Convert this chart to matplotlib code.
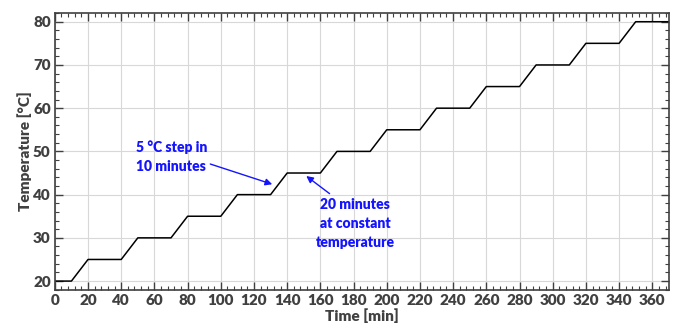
import matplotlib.pyplot as plt
from matplotlib.ticker import MultipleLocator

# temperature profile: 5 degC step in 10 min, then 20 min hold
time_min = [0, 10, 20, 40, 50, 70, 80, 100, 110, 130, 140, 160, 170, 190, 200,
            220, 230, 250, 260, 280, 290, 310, 320, 340, 350, 370]
temp_c = [20, 20, 25, 25, 30, 30, 35, 35, 40, 40, 45, 45, 50, 50, 55,
          55, 60, 60, 65, 65, 70, 70, 75, 75, 80, 80]

plt.rcParams['font.family'] = ['Lato', 'DejaVu Sans']
plt.rcParams['font.weight'] = 'bold'

fig = plt.figure(figsize=(6.77, 3.27), dpi=100)
ax = fig.add_axes([0.081, 0.114, 0.907, 0.846])

ax.plot(time_min, temp_c, color='black', linewidth=1.1)

ax.set_xlim(0, 370)
ax.set_ylim(18, 82)
ax.xaxis.set_major_locator(MultipleLocator(20))
ax.xaxis.set_minor_locator(MultipleLocator(4))
ax.yaxis.set_major_locator(MultipleLocator(10))
ax.yaxis.set_minor_locator(MultipleLocator(2))
ax.tick_params(which='both', direction='in', top=True, right=True,
               colors='#404040', labelsize=11)
ax.tick_params(which='major', length=6, width=1, pad=3)
ax.tick_params(which='minor', length=3, width=0.8)
for lbl in ax.get_xticklabels() + ax.get_yticklabels():
    lbl.set_fontweight('heavy')
for s in ax.spines.values():
    s.set_color('#404040')
    s.set_linewidth(1.2)
ax.grid(True, which='major', color='#d8d8d8', linewidth=0.8)
ax.set_axisbelow(True)

ax.set_xlabel('Time [min]', fontsize=11, fontweight='heavy', color='#404040', labelpad=1)
ax.set_ylabel('Temperature [°C]', fontsize=11, fontweight='heavy', color='#404040', labelpad=1)

blue = '#1414ff'
ax.annotate('5 °C step in\n10 minutes', xy=(131, 42.4), xytext=(49, 52.6),
            color=blue, fontsize=10, fontweight='heavy', ha='left', va='top',
            linespacing=1.55,
            arrowprops=dict(arrowstyle='-|>', color=blue, lw=1.0,
                            shrinkA=0, shrinkB=0, mutation_scale=10,
                            relpos=(1.0, 0.3)))
ax.annotate('20 minutes\nat constant\ntemperature', xy=(151.5, 44.3), xytext=(181, 39.2),
            color=blue, fontsize=10, fontweight='heavy', ha='center', va='top',
            linespacing=1.55,
            arrowprops=dict(arrowstyle='-|>', color=blue, lw=1.0,
                            shrinkA=2, shrinkB=0, mutation_scale=10,
                            relpos=(0.25, 1.0)))

fig.savefig('out.png', dpi=100)
